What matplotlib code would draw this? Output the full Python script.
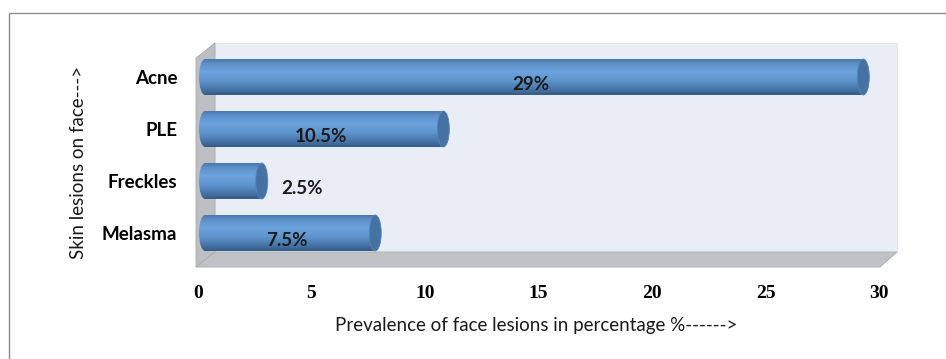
import matplotlib.pyplot as plt
import matplotlib.transforms as mtransforms
from matplotlib.patches import Polygon, Ellipse, Rectangle
from matplotlib.colors import LinearSegmentedColormap
import numpy as np

categories = ['Melasma', 'Freckles', 'PLE', 'Acne']
values = [7.5, 2.5, 10.5, 29]
value_labels = ['7.5%', '2.5%', '10.5%', '29%']
x_ticks = [0, 5, 10, 15, 20, 25, 30]

W, H = 946, 359


def px(x, y):
    # pixel (from top-left) -> figure fraction
    return (x / W, 1 - y / H)


fig = plt.figure(figsize=(W / 100, H / 100), dpi=100)
ax = fig.add_axes([198 / W, 1 - 259 / H, (879 - 198) / W, 208 / H])
ax.patch.set_visible(False)
for s in ax.spines.values():
    s.set_visible(False)

# outer frame
fig.add_artist(Rectangle(px(9, 365), 950 / W, 352 / H, transform=fig.transFigure,
                         fill=False, ec='#8E8E8E', lw=1.0, zorder=-3))

# fake 3d box: back wall, left wall, floor
fig.add_artist(Polygon([px(215, 43), px(897, 43), px(897, 252), px(215, 252)],
                       transform=fig.transFigure, fc='#E9EDF6', ec='#DCE1EC', lw=0.6, zorder=-2))
fig.add_artist(Polygon([px(196, 58), px(215, 43), px(215, 252), px(196, 267)],
                       transform=fig.transFigure, fc='#BDBFC3', ec='#A9ABAF', lw=0.6, zorder=-2))
fig.add_artist(Polygon([px(196, 267), px(215, 252), px(897, 252), px(880, 267)],
                       transform=fig.transFigure, fc='#C0C2C6', ec='#A9ABAF', lw=0.6, zorder=-2))

# bars sit half way into the depth
depth = mtransforms.ScaledTranslation(7 / 100, 0, fig.dpi_scale_trans)
trans = ax.transData + depth

cyl = LinearSegmentedColormap.from_list('cyl', [
    (0.0, '#4A77AB'), (0.12, '#5C8FC8'), (0.35, '#6CA3DC'),
    (0.6, '#5F95CD'), (0.85, '#4673A6'), (1.0, '#355A85')])
grad = np.linspace(0, 1, 256).reshape(-1, 1)

cap_w = 12 / 22.7
bars = ax.barh(range(len(categories)), values, height=0.69, color='none', zorder=2)
for rect in bars:
    rect.set_transform(trans)
    x0, y0, w, h = rect.get_x(), rect.get_y(), rect.get_width(), rect.get_height()
    yc = y0 + h / 2
    left_end = Ellipse((x0, yc), cap_w, h, transform=trans)
    for clip in (rect, left_end):
        im = ax.imshow(grad, cmap=cyl, extent=(x0 - cap_w, x0 + w, y0, y0 + h),
                       aspect='auto', transform=trans, zorder=2, interpolation='bilinear')
        im.set_clip_path(clip)
    ax.add_patch(Ellipse((x0 + w, yc), cap_w, h, transform=trans,
                         fc='#4671A3', ec='#5683B8', lw=0.6, zorder=3))

label_trans = ax.transData + mtransforms.ScaledTranslation(7 / 100, -8 / 100, fig.dpi_scale_trans)
for i, (v, lab) in enumerate(zip(values, value_labels)):
    if v >= 5:
        ax.text(v / 2 - 0.15, i, lab, transform=label_trans, ha='center', va='center',
                fontsize=13.5, fontweight='bold', family='Lato', color='#1A1A1A', zorder=4)
    else:
        ax.text(v + 0.85, i, lab, transform=label_trans, ha='left', va='center',
                fontsize=13.5, fontweight='bold', family='Lato', color='#1A1A1A', zorder=4)

ax.set_xlim(0, 30)
ax.set_ylim(-0.5, len(categories) - 0.5)
ax.set_xticks(x_ticks)
ax.set_xticklabels([str(t) for t in x_ticks], family='Liberation Serif',
                   fontweight='bold', fontsize=14)
ax.set_yticks(range(len(categories)))
ax.set_yticklabels(categories, family='Lato', fontweight='bold', fontsize=13.5)
ax.tick_params(axis='x', length=0, pad=19)
ax.tick_params(axis='y', length=0, pad=15)

fig.text(*px(536, 326), 'Prevalence of face lesions in percentage %------>',
         ha='center', va='center', family='Lato', fontsize=13.5, color='#1A1A1A')
fig.text(*px(78, 162), 'Skin lesions on face--->', rotation=90,
         ha='center', va='center', family='Lato', fontsize=13.5, color='#1A1A1A')

fig.savefig('out.png', dpi=100)
